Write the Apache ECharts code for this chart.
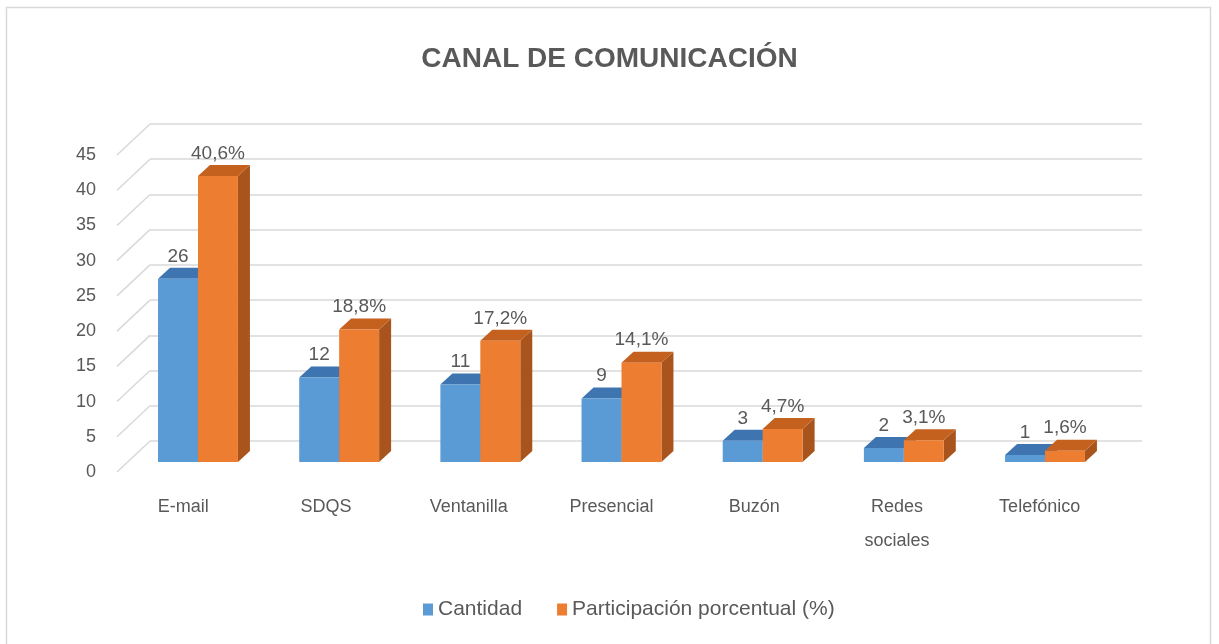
<!DOCTYPE html>
<html>
<head>
<meta charset="utf-8">
<script src="https://cdn.jsdelivr.net/npm/echarts@6/dist/echarts.min.js"></script>
<style>
  html, body { margin: 0; padding: 0; background: #fff; }
  #chart { width: 1219px; height: 644px; }
</style>
</head>
<body>
<div id="chart"></div>
<script>
var categories = ['E-mail', 'SDQS', 'Ventanilla', 'Presencial', 'Buzón', 'Redes\nsociales', 'Telefónico'];
var cantidad = [26, 12, 11, 9, 3, 2, 1];
var porcentaje = [40.6, 18.8, 17.2, 14.1, 4.7, 3.1, 1.6];
var yTicks = [0, 5, 10, 15, 20, 25, 30, 35, 40, 45];

var FONT = "'Liberation Sans', Arial, sans-serif";
var TXT = '#595959';
var DX = 12, DY = -11; // bar depth

var chart = echarts.init(document.getElementById('chart'));

function bar3d(front, top, side, fmt, offset) {
  return function (params, api) {
    var i = api.value(0), v = api.value(1);
    var base = api.coord([i, 0]);
    var pt = api.coord([i, v]);
    var band = api.size([1, 0])[0];
    var w = band * 0.283;
    var x0 = base[0] + offset * w;
    var x1 = x0 + w;
    var y0 = base[1], y1 = pt[1];
    return {
      type: 'group',
      children: [
        { type: 'polygon', shape: { points: [[x1, y1], [x1 + DX, y1 + DY], [x1 + DX, y0 + DY], [x1, y0]] }, style: { fill: side } },
        { type: 'polygon', shape: { points: [[x0, y1], [x0 + DX, y1 + DY], [x1 + DX, y1 + DY], [x1, y1]] }, style: { fill: top } },
        { type: 'rect', shape: { x: x0, y: y1, width: w, height: y0 - y1 }, style: { fill: front } },
        { type: 'text', style: { text: fmt(v), x: (x0 + x1) / 2, y: y1 - 13, align: 'center', verticalAlign: 'bottom', fill: TXT, font: '19px ' + FONT } }
      ]
    };
  };
}

var option = {
  animation: false,
  backgroundColor: '#fff',
  title: {
    text: 'CANAL DE COMUNICACIÓN',
    left: 'center',
    top: 40,
    textStyle: { fontFamily: FONT, fontSize: 28, fontWeight: 'bold', color: TXT }
  },
  legend: {
    left: 418,
    top: 594,
    icon: 'rect',
    itemWidth: 10,
    itemHeight: 12,
    itemGap: 35,
    textStyle: { fontFamily: FONT, fontSize: 21, color: TXT },
    data: ['Cantidad', 'Participación porcentual (%)']
  },
  graphic: [{
    type: 'rect',
    shape: { x: 6.5, y: 7.5, width: 1204, height: 640 },
    style: { fill: 'none', stroke: '#d9d9d9', lineWidth: 1.5 },
    silent: true
  }],
  grid: [
    { left: 150, right: 77, top: 124, bottom: 203 },   // back wall
    { left: 112, right: 108, top: 155, bottom: 172 },  // front axis labels
    { left: 127.4, right: 103.4, top: 145, bottom: 182 } // bars
  ],
  xAxis: [
    { gridIndex: 0, type: 'value', min: 0, max: 1, show: false },
    { gridIndex: 1, type: 'category', data: categories,
      axisLine: { show: false }, axisTick: { show: false },
      axisLabel: { margin: 18, color: TXT, fontFamily: FONT, fontSize: 18, lineHeight: 34 } },
    { gridIndex: 2, type: 'category', data: categories, show: false }
  ],
  yAxis: [
    { gridIndex: 0, type: 'value', min: 0, max: 45, interval: 5,
      axisLabel: { show: false }, axisLine: { show: false }, axisTick: { show: false },
      splitLine: { lineStyle: { color: '#d9d9d9', width: 1.5 } } },
    { gridIndex: 1, type: 'value', min: 0, max: 45, interval: 5,
      axisLine: { show: false }, axisTick: { show: false }, splitLine: { show: false },
      axisLabel: { margin: 16, color: TXT, fontFamily: FONT, fontSize: 18 } },
    { gridIndex: 2, type: 'value', min: 0, max: 45, show: false }
  ],
  series: [
    {
      type: 'custom',
      xAxisIndex: 0, yAxisIndex: 0,
      silent: true,
      z: 1,
      data: yTicks.map(function (t) { return [0, t]; }),
      renderItem: function (params, api) {
        var p = api.coord([0, api.value(1)]);
        return { type: 'line', shape: { x1: p[0] - 33, y1: p[1] + 31, x2: p[0], y2: p[1] },
          style: { stroke: '#d9d9d9', lineWidth: 1.5 } };
      }
    },
    {
      name: 'Cantidad',
      type: 'custom',
      xAxisIndex: 2, yAxisIndex: 2,
      z: 3,
      itemStyle: { color: '#5B9BD5' },
      data: cantidad.map(function (v, i) { return [i, v]; }),
      renderItem: bar3d('#5B9BD5', '#3E75B0', '#3A6A9E', function (v) { return String(v); }, -1)
    },
    {
      name: 'Participación porcentual (%)',
      type: 'custom',
      xAxisIndex: 2, yAxisIndex: 2,
      z: 4,
      itemStyle: { color: '#ED7D31' },
      data: porcentaje.map(function (v, i) { return [i, v]; }),
      renderItem: bar3d('#ED7D31', '#C5611E', '#A8541C', function (v) { return v.toFixed(1).replace('.', ',') + '%'; }, 0)
    }
  ]
};

chart.setOption(option);
</script>
</body>
</html>
